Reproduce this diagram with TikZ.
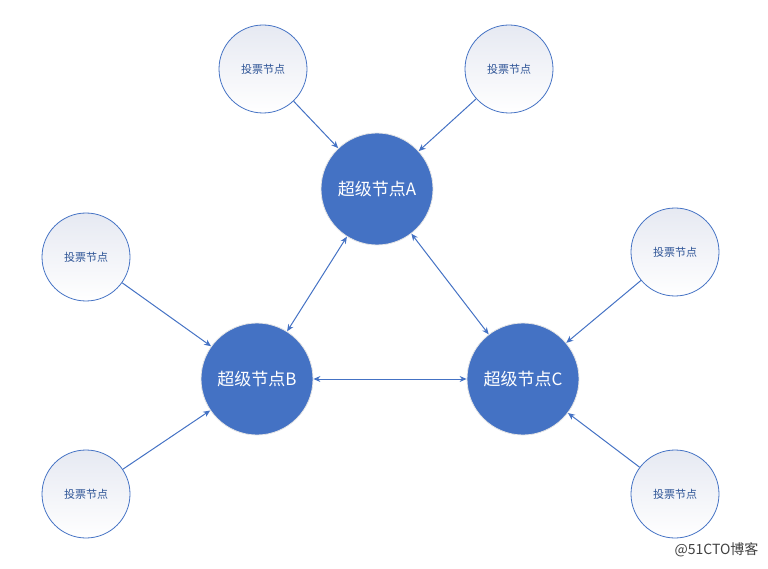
\documentclass[tikz,border=0pt]{standalone}
\usepackage{fontspec}
\setmainfont{Noto Sans CJK SC}
\usetikzlibrary{arrows.meta,shadings}
\definecolor{mblue}{HTML}{4472C4}
\definecolor{tblue}{HTML}{2F5597}
\definecolor{vtop}{HTML}{E6E9F2}
\tikzset{
  super/.style={circle,fill=mblue,draw=white!80!gray,line width=0.8pt,minimum size=112pt,inner sep=0pt,text=white,font=\fontsize{17}{20}\selectfont},
  voter/.style={circle,draw=mblue,line width=0.8pt,top color=vtop,bottom color=white,minimum size=88pt,inner sep=0pt,text=tblue,font=\fontsize{11}{13}\selectfont},
  link/.style={draw=mblue,line width=1pt,-{Stealth[length=7pt,width=6pt]}},
  blink/.style={draw=mblue,line width=1pt,{Stealth[length=7pt,width=6pt]}-{Stealth[length=7pt,width=6pt]}}
}
\begin{document}
\begin{tikzpicture}[x=1pt,y=-1pt]
\useasboundingbox (0,0) rectangle (768,569);
\node[super] (A) at (377,189) {超级节点A};
\node[super] (B) at (257,379) {超级节点B};
\node[super] (C) at (523,379) {超级节点C};
\foreach \n/\x/\y in {v1/263/69, v2/509/69, v3/86/257, v4/675/252, v5/86/494, v6/675/494}{
  \node[voter] (\n) at (\x,\y) {投票节点};
}
\draw[link] (v1) -- (A);
\draw[link] (v2) -- (A);
\draw[link] (v3) -- (B);
\draw[link] (v5) -- (B);
\draw[link] (v4) -- (C);
\draw[link] (v6) -- (C);
\draw[blink] (A) -- (B);
\draw[blink] (A) -- (C);
\draw[blink] (B) -- (C);
\node[text=black!75,font=\fontsize{14}{16}\selectfont,anchor=east] (wm) at (762,550) {@51CTO博客};
\end{tikzpicture}
\end{document}
